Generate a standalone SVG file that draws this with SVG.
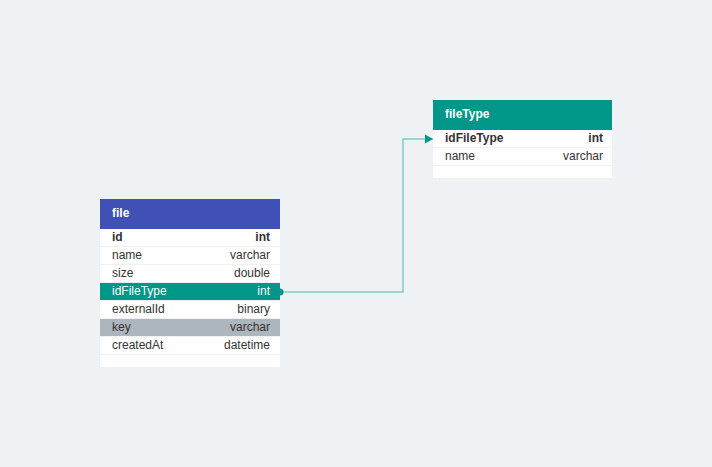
<svg xmlns="http://www.w3.org/2000/svg" width="712" height="467" viewBox="0 0 712 467">
<style>
text{font-family:"Liberation Sans",Arial,sans-serif;font-size:12px;fill:#333}
.h{fill:#fff;font-weight:bold}
.b{font-weight:bold}
.r{text-anchor:end}
.row{fill:#fff}
.w{fill:#fff}
</style>
<defs>
<marker id="arr" markerWidth="8" markerHeight="10" refX="8" refY="5" orient="auto" markerUnits="userSpaceOnUse">
<path d="M0,0.5 L8,5 L0,9.5 Z" fill="#009688"/>
</marker>
</defs>
<rect width="712" height="467" fill="#eff2f5"/>
<g id="connectors">
<path d="M280,292 H403 V139 H433" fill="none" stroke="#80cbc4" stroke-width="1.5" marker-end="url(#arr)"/>
<circle cx="280" cy="292" r="3.5" fill="#009688"/>
</g>
<g id="file">
<rect x="100" y="199" width="180" height="30" fill="#3f51b5"/>
<text class="h" x="112" y="217">file</text>
<rect class="row" x="100" y="229" width="180" height="17"/>
<rect class="row" x="100" y="247" width="180" height="17"/>
<rect class="row" x="100" y="265" width="180" height="17"/>
<rect x="100" y="283" width="180" height="17" fill="#009688"/>
<rect class="row" x="100" y="301" width="180" height="17"/>
<rect x="100" y="319" width="180" height="17" fill="#adb5bd"/>
<rect class="row" x="100" y="337" width="180" height="17"/>
<rect class="row" x="100" y="355" width="180" height="12"/>
<text class="b" x="112" y="241">id</text><text class="b r" x="270" y="241">int</text>
<text x="112" y="259">name</text><text class="r" x="270" y="259">varchar</text>
<text x="112" y="277">size</text><text class="r" x="270" y="277">double</text>
<text class="w" x="112" y="295">idFileType</text><text class="w r" x="270" y="295">int</text>
<text x="112" y="313">externalId</text><text class="r" x="270" y="313">binary</text>
<text x="112" y="331">key</text><text class="r" x="270" y="331">varchar</text>
<text x="112" y="349">createdAt</text><text class="r" x="270" y="349">datetime</text>
</g>
<g id="fileType">
<rect x="433" y="100" width="179" height="30" fill="#009688"/>
<text class="h" x="445" y="118">fileType</text>
<rect class="row" x="433" y="130" width="179" height="17"/>
<rect class="row" x="433" y="148" width="179" height="17"/>
<rect class="row" x="433" y="166" width="179" height="12"/>
<text class="b" x="445" y="142">idFileType</text><text class="b r" x="603" y="142">int</text>
<text x="445" y="160">name</text><text class="r" x="603" y="160">varchar</text>
</g>
</svg>
